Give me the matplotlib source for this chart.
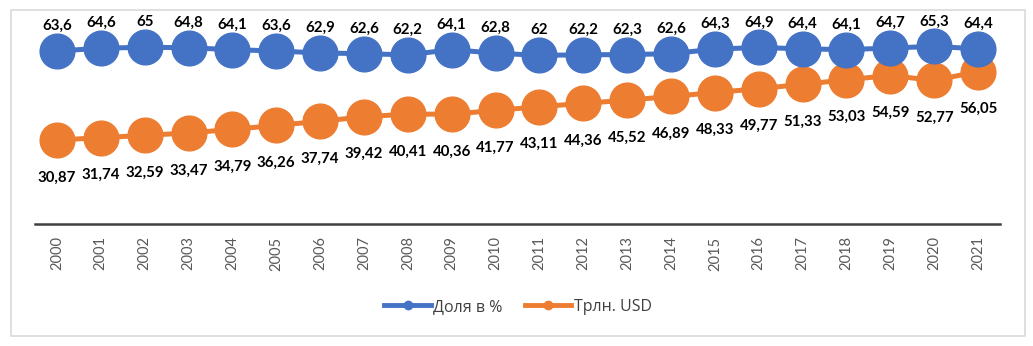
import matplotlib

matplotlib.use("Agg")
import matplotlib.pyplot as plt
from matplotlib.lines import Line2D
from matplotlib.patches import Rectangle
import numpy as np

years = [str(y) for y in range(2000, 2022)]
share = [63.6, 64.6, 65, 64.8, 64.1, 63.6, 62.9, 62.6, 62.2, 64.1, 62.8,
         62, 62.2, 62.3, 62.6, 64.3, 64.9, 64.4, 64.1, 64.7, 65.3, 64.4]
trln = [30.87, 31.74, 32.59, 33.47, 34.79, 36.26, 37.74, 39.42, 40.41, 40.36,
        41.77, 43.11, 44.36, 45.52, 46.89, 48.33, 49.77, 51.33, 53.03, 54.59,
        52.77, 56.05]
names = ["Доля в %", "Трлн. USD"]

blue = "#4472C4"
orange = "#ED7D31"

W, H = 1033, 346
fig = plt.figure(figsize=(W / 100, H / 100), dpi=100)
ax = fig.add_axes([35 / W, 1 - 224 / H, 965 / W, 204 / H])

x = np.arange(len(years))
ax.plot(x, share, color=blue, lw=3.6, marker="o", ms=25, zorder=3)
ax.plot(x, trln, color=orange, lw=3.6, marker="o", ms=25, zorder=2)

lab_font = dict(family="Lato", fontsize=10.8, fontweight="bold", color="black")


def fmt(v):
    s = f"{v:g}" if v != int(v) else str(int(v))
    return s.replace(".", ",")


for xi, v in zip(x, share):
    ax.annotate(fmt(v), (xi, v), xytext=(0, 18), textcoords="offset points",
                ha="center", va="center", **lab_font)
for xi, v in zip(x, trln):
    ax.annotate(f"{v:.2f}".replace(".", ","), (xi, v), xytext=(0, -27),
                textcoords="offset points", ha="center", va="center",
                **lab_font)

ax.set_xlim(-0.5, len(years) - 0.5)
ax.set_ylim(0, 75)
ax.set_yticks([])
ax.set_xticks(x)
ax.set_xticklabels(years, rotation=90, family="Lato", fontsize=10.5,
                   color="#595959")
ax.tick_params(axis="x", length=0, pad=9)
for side in ["left", "right", "top"]:
    ax.spines[side].set_visible(False)
ax.spines["bottom"].set_color("#404040")
ax.spines["bottom"].set_linewidth(1.8)
ax.patch.set_alpha(0)

handles = [
    Line2D([], [], color=blue, lw=3.5, marker="o", ms=6),
    Line2D([], [], color=orange, lw=3.5, marker="o", ms=6),
]
fig.legend(handles, names, loc="center", bbox_to_anchor=(518 / W, 1 - 307 / H),
           ncol=2, frameon=False, handlelength=2.9, handletextpad=0.15,
           columnspacing=1.4, prop=dict(family="Open Sans", size=11.5),
           labelcolor="#404040")

fig.add_artist(Rectangle((11 / W, 1 - 336 / H), 1014 / W, 326 / H,
                         transform=fig.transFigure, fill=False,
                         edgecolor="#d9d9d9", lw=1.2))

fig.savefig("out.png", dpi=100)
